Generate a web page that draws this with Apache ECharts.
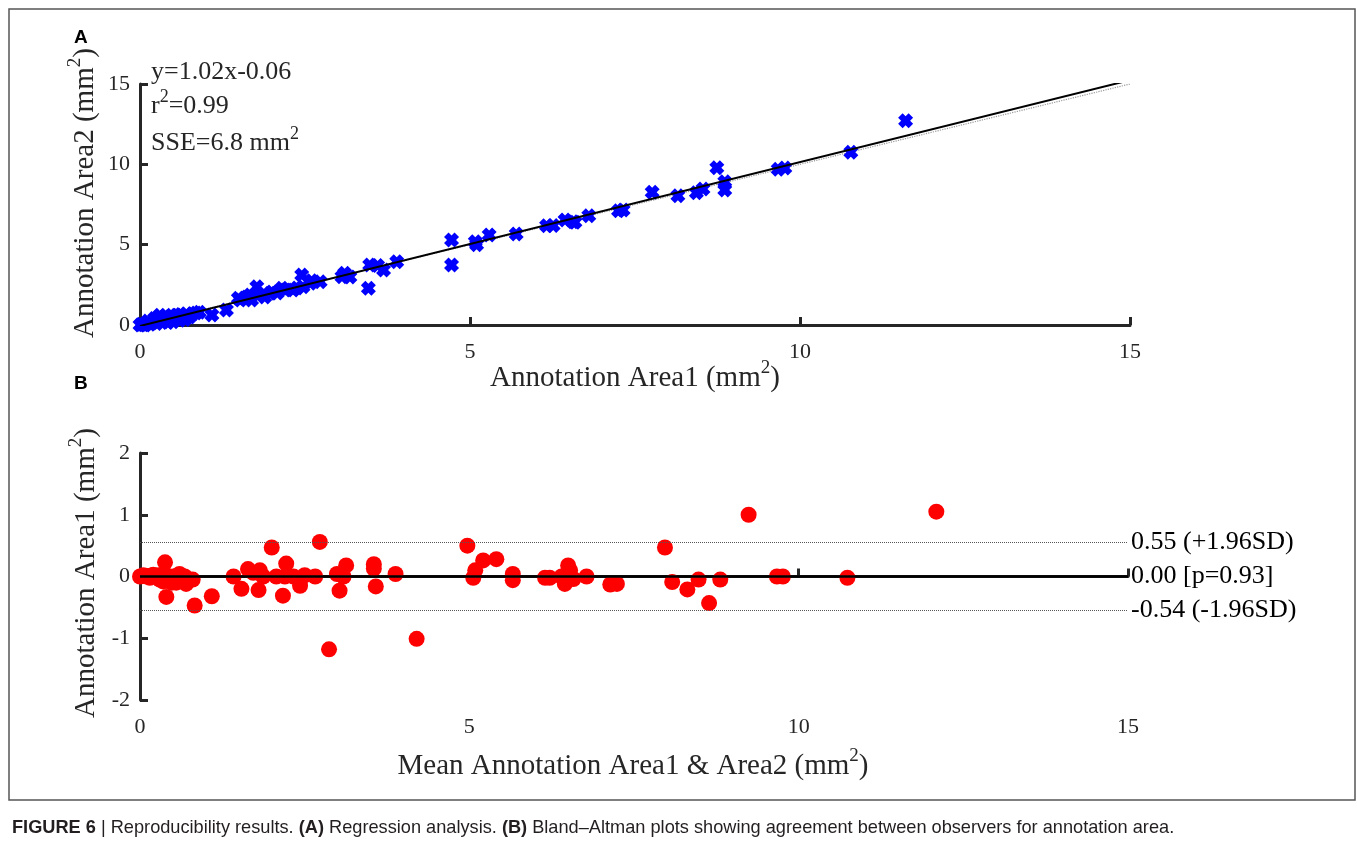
<!DOCTYPE html>
<html><head><meta charset="utf-8">
<script src="https://cdn.jsdelivr.net/npm/echarts@6/dist/echarts.min.js"></script>
<style>html,body{margin:0;padding:0;background:#fff;}#c{width:1357px;height:845px;}</style>
</head><body><div id="c"></div>
<script>
// Panel A: regression (Annotation Area1 vs Area2)
const areaA1 = [0,0.02,0.05,0.08,0.1,0.12,0.15,0.18,0.2,0.22,0.25,0.28,0.3,0.3,0.35,0.38,0.4,0.42,0.45,0.48,0.5,0.5,0.55,0.58,0.6,0.62,0.65,0.68,0.7,0.75,0.8,0.85,0.9,
 1.09,1.31,1.49,1.52,1.59,1.62,1.67,1.69,1.77,1.8,1.89,1.97,2.0,2.08,2.15,2.2,2.32,2.38,2.45,2.47,2.58,2.6,2.73,3.06,3.1,3.18,3.46,3.48,3.6,3.69,3.89,
 4.72,4.72,5.08,5.1,5.29,5.7,6.16,6.26,6.44,6.56,6.59,6.8,7.25,7.32,7.76,8.15,8.43,8.53,8.74,8.86,8.86,9.67,9.77,10.77,11.6];
const areaA2 = [0,0.05,0.02,0,0.1,0.25,0.05,0.12,0.2,0.4,0.1,0.5,0.35,0.6,0.2,0.55,0.3,0.15,0.5,0.6,0.4,0.2,0.6,0.45,0.3,0.65,0.55,0.35,0.7,0.5,0.7,0.75,0.8,
 0.62,0.93,1.66,1.56,1.68,1.75,1.87,1.56,2.38,1.9,1.74,1.97,2.05,1.99,2.28,2.18,2.18,2.3,3.11,2.38,2.6,2.75,2.69,3.0,3.22,2.99,2.28,3.73,3.7,3.42,3.94,
 5.29,3.73,5.18,5.0,5.6,5.66,6.18,6.2,6.53,6.43,6.4,6.8,7.11,7.15,8.26,8.05,8.23,8.46,9.79,8.92,8.4,9.7,9.77,10.75,12.71];
const regCoef = [1.02, -0.06];      // slope, intercept
const regRange = [0, 15];
const axisTicksA = [0, 5, 10, 15];

// Panel B: Bland-Altman
const baMean = [0,0.05,0.1,0.12,0.15,0.2,0.25,0.28,0.3,0.35,0.38,0.4,0.4,0.45,0.48,0.5,0.55,0.58,0.6,0.65,0.68,0.7,0.75,0.8,0.83,1.09,
 1.42,1.54,1.64,1.72,1.8,1.82,1.87,2.0,2.07,2.17,2.22,2.2,2.33,2.43,2.5,2.66,2.73,2.87,2.99,3.03,3.09,3.13,3.55,3.55,3.58,3.88,4.2,
 4.97,5.06,5.09,5.21,5.41,5.66,5.66,6.15,6.22,6.4,6.45,6.5,6.53,6.58,6.78,7.14,7.24,7.97,8.08,8.31,8.48,8.64,8.81,9.24,9.67,9.76,10.74,12.09];
const baDiff = [0,0.02,0,0.01,-0.02,0.03,0,0.02,-0.05,-0.08,0.23,-0.33,0.02,-0.05,-0.1,0,-0.1,0.02,0.04,-0.05,0,-0.12,-0.05,-0.05,-0.47,-0.32,
 0,-0.2,0.12,0.06,-0.22,0.1,0,0.47,0,-0.31,0.21,0,0,-0.15,0.02,0,0.56,-1.18,0.04,-0.23,0,0.18,0.2,0.13,-0.16,0.04,-1.01,
 0.5,-0.02,0.1,0.26,0.28,0.04,-0.06,-0.02,-0.02,0,-0.12,0.18,0.1,-0.04,0,-0.13,-0.12,0.47,-0.09,-0.21,-0.05,-0.43,-0.05,1.0,0,0,-0.02,1.05];
const baLines = [0.55, 0.00, -0.54];
const baLabels = ['0.55 (+1.96SD)', '0.00 [p=0.93]', '-0.54 (-1.96SD)'];
const axisTicksB = [-2, -1, 0, 1, 2];

const serif = '"Liberation Serif","Times New Roman",serif';
const axisCol = '#262626';
const xMark = 'path://M3,0 L5,2 L7,0 L10,3 L8,5 L10,7 L7,10 L5,8 L3,10 L0,7 L2,5 L0,3 Z';

const ptsA = areaA1.map((v, i) => [v, areaA2[i]]);
const ptsB = baMean.map((v, i) => [v, baDiff[i]]);
const regLine = regRange.map(x => [x, regCoef[0] * x + regCoef[1]]);
const idLine = regRange.map(x => [x, x]);

function axisCommon(min, max, interval, margin) {
  return {
    min, max, interval,
    axisLine: { show: true, lineStyle: { color: axisCol, width: 3 } },
    axisTick: { show: true, inside: true, length: 8, lineStyle: { color: axisCol, width: 3 } },
    axisLabel: { fontFamily: serif, fontSize: 22, color: axisCol, margin: margin },
    splitLine: { show: false }
  };
}
const supRich = (fs, pad) => ({ sup: { fontSize: fs, fontFamily: serif, fill: axisCol, padding: [0, 0, pad, 0] } });

const chart = echarts.init(document.getElementById('c'));
chart.setOption({
  animation: false,
  backgroundColor: '#fff',
  grid: [
    { left: 140, top: 84, width: 990, height: 241 },
    { left: 140, top: 453, width: 988, height: 247 }
  ],
  xAxis: [
    Object.assign({ type: 'value', gridIndex: 0 }, axisCommon(axisTicksA[0], axisTicksA[3], 5, 16)),
    Object.assign({ type: 'value', gridIndex: 1 }, axisCommon(0, 15, 5, 16))
  ],
  yAxis: [
    Object.assign({ type: 'value', gridIndex: 0 }, axisCommon(axisTicksA[0], axisTicksA[3], 5, 10)),
    Object.assign({ type: 'value', gridIndex: 1 }, axisCommon(axisTicksB[0], axisTicksB[4], 1, 10))
  ],
  series: [
    { type: 'line', xAxisIndex: 0, yAxisIndex: 0, data: idLine, symbol: 'none', lineStyle: { color: '#999', width: 1.2, type: 'dotted' }, z: 2 },
    { type: 'scatter', xAxisIndex: 0, yAxisIndex: 0, data: ptsA, symbol: xMark, symbolSize: 15, itemStyle: { color: '#0000ff', opacity: 1 }, z: 3 },
    { type: 'line', xAxisIndex: 0, yAxisIndex: 0, data: regLine, symbol: 'none', lineStyle: { color: '#000', width: 2 }, z: 4 },
    { type: 'scatter', xAxisIndex: 1, yAxisIndex: 1, data: ptsB, symbol: 'circle', symbolSize: 16, itemStyle: { color: '#ff0000', opacity: 1 }, z: 4,
      markLine: {
        silent: true, symbol: 'none',
        label: { show: true, position: 'end', distance: 3, fontFamily: serif, fontSize: 26, color: '#000', formatter: p => baLabels[baLines.indexOf(p.value)] },
        data: baLines.map((v, i) => ({ yAxis: v, lineStyle: i === 1 ? { color: '#000', width: 2.5, type: 'solid' } : { color: '#555', width: 1, type: 'dotted' } }))
      }
    }
  ],
  graphic: [
    { type: 'rect', shape: { x: 9, y: 9, width: 1346, height: 791 }, style: { fill: 'none', stroke: '#555', lineWidth: 1.5 }, silent: true },
    { type: 'text', left: 74, top: 28, style: { text: 'A', font: 'bold 19px "Liberation Sans",Arial,sans-serif', fill: '#000' } },
    { type: 'text', left: 74, top: 374, style: { text: 'B', font: 'bold 19px "Liberation Sans",Arial,sans-serif', fill: '#000' } },
    { type: 'text', x: 151, y: 72, style: { text: 'y=1.02x-0.06', font: '26px ' + serif, fill: axisCol, verticalAlign: 'middle' } },
    { type: 'text', x: 151, y: 106, style: { text: 'r{sup|2}=0.99', font: '26px ' + serif, fill: axisCol, verticalAlign: 'middle', rich: supRich(18, 18) } },
    { type: 'text', x: 151, y: 143, style: { text: 'SSE=6.8 mm{sup|2}', font: '26px ' + serif, fill: axisCol, verticalAlign: 'middle', rich: supRich(18, 18) } },
    { type: 'text', x: 635, y: 378, style: { text: 'Annotation Area1 (mm{sup|2})', font: '29px ' + serif, fill: axisCol, align: 'center', verticalAlign: 'middle', rich: supRich(19, 20) } },
    { type: 'text', x: 85, y: 193, rotation: Math.PI / 2, style: { text: 'Annotation Area2 (mm{sup|2})', font: '29px ' + serif, fill: axisCol, align: 'center', verticalAlign: 'middle', rich: supRich(19, 20) } },
    { type: 'text', x: 633, y: 766, style: { text: 'Mean Annotation Area1 & Area2 (mm{sup|2})', font: '29px ' + serif, fill: axisCol, align: 'center', verticalAlign: 'middle', rich: supRich(19, 20) } },
    { type: 'text', x: 86, y: 573, rotation: Math.PI / 2, style: { text: 'Annotation Area1 (mm{sup|2})', font: '29px ' + serif, fill: axisCol, align: 'center', verticalAlign: 'middle', rich: supRich(19, 20) } },
    { type: 'text', x: 12, y: 828, style: {
        text: '{b|FIGURE 6} | Reproducibility results. {b|(A)} Regression analysis. {b|(B)} Bland–Altman plots showing agreement between observers for annotation area.',
        font: '18.2px "Liberation Sans",Arial,sans-serif', fill: '#231f20', verticalAlign: 'middle',
        rich: { b: { fontWeight: 'bold', fontFamily: '"Liberation Sans",Arial,sans-serif', fontSize: 18.2, fill: '#231f20' } } } }
  ]
});
</script></body></html>
